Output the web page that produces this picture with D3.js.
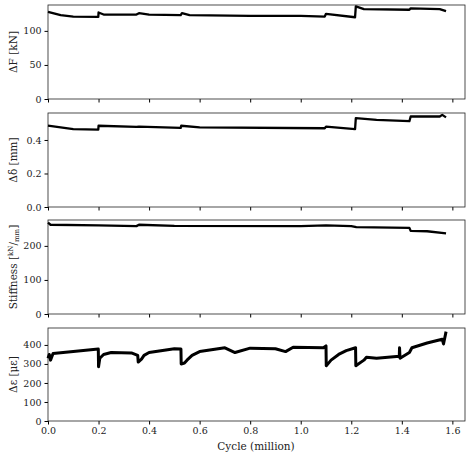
<!DOCTYPE html>
<html><head><meta charset="utf-8">
<script src="https://cdn.jsdelivr.net/npm/d3@7"></script>
<style>
body{margin:0;background:#fff}
.tick text{font-family:"DejaVu Serif";font-size:9.5px;fill:#222}
.lbl{font-family:"DejaVu Serif";font-size:10.5px;fill:#222}
</style></head><body>
<div id="chart"></div>
<script>
// Cycle (million) / value pairs
const forceX = [0,0.05,0.1,0.199,0.2,0.22,0.35,0.36,0.4,0.525,0.53,0.56,0.8,1.0,1.095,1.1,1.215,1.218,1.25,1.43,1.435,1.55,1.575]
const forceY = [128,123,121,120.5,127,124,124,126,124,123,126,123,122,122,121,125,120,136,132,131,133,132,129]
const deltaX = [0,0.1,0.199,0.2,0.35,0.36,0.525,0.527,0.6,1.095,1.1,1.215,1.218,1.3,1.43,1.435,1.55,1.56,1.575]
const deltaY = [0.485,0.465,0.462,0.485,0.478,0.48,0.472,0.485,0.475,0.47,0.48,0.465,0.53,0.52,0.512,0.54,0.54,0.55,0.535]
const stiffX = [0,0.01,0.2,0.35,0.36,0.5,1.0,1.1,1.2,1.22,1.43,1.435,1.5,1.575]
const stiffY = [268,262,260,258,262,259,258,260,258,255,253,244,243,237]
const strainX = [0,0.005,0.01,0.02,0.1,0.199,0.2,0.205,0.22,0.25,0.33,0.355,0.357,0.37,0.38,0.4,0.5,0.526,0.527,0.54,0.55,0.57,0.6,0.7,0.74,0.8,0.9,0.94,0.97,1.09,1.1,1.101,1.12,1.15,1.18,1.217,1.218,1.25,1.26,1.3,1.39,1.391,1.393,1.43,1.44,1.5,1.56,1.565,1.575]
const strainY = [330,350,320,355,365,378,285,330,350,360,358,345,310,325,345,360,380,378,300,305,320,345,365,385,360,383,380,365,388,385,395,290,320,350,370,385,290,320,335,330,340,385,330,360,385,410,430,405,470]

const panels = [
  {xs: forceX, ys: forceY, max: 138, ticks: [0,50,100], fmt: d3.format("d"), top: 5, bot: 99, label: "ΔF [kN]"},
  {xs: deltaX, ys: deltaY, max: 0.561, ticks: [0,0.2,0.4], fmt: d3.format(".1f"), top: 113, bot: 207, label: "Δδ [mm]"},
  {xs: stiffX, ys: stiffY, max: 276, ticks: [0,100,200], fmt: d3.format("d"), top: 220, bot: 314, label: null},
  {xs: strainX, ys: strainY, max: 489, ticks: [0,100,200,300,400], fmt: d3.format("d"), top: 328, bot: 421, label: "Δε [με]"}
]

const svg = d3.select("#chart").append("svg").attr("width", 474).attr("height", 457)
const x = d3.scaleLinear().domain([0, 1.65]).range([48, 465])

panels.forEach(function(p, i) {
    const y = d3.scaleLinear().domain([0, p.max]).range([p.bot, p.top])
    const g = svg.append("g")
    g.append("g").attr("transform", "translate(0," + p.bot + ")")
        .call(d3.axisBottom(x).tickValues(d3.range(0, 1.61, 0.2)).tickSize(3.5)
            .tickFormat(i === 3 ? d3.format(".1f") : ""))
        .call(a => a.select(".domain").remove())
    g.append("g").attr("transform", "translate(48,0)")
        .call(d3.axisLeft(y).tickValues(p.ticks).tickSize(3.5).tickFormat(p.fmt))
        .call(a => a.select(".domain").remove())
    g.append("rect").attr("x", 48).attr("y", p.top).attr("width", 417).attr("height", p.bot - p.top)
        .attr("fill", "none").attr("stroke", "#222").attr("stroke-width", 0.8)
    const line = d3.line().x(d => x(d[0])).y(d => y(d[1]))
    g.append("path").datum(d3.zip(p.xs, p.ys)).attr("d", line)
        .attr("fill", "none").attr("stroke", "#000").attr("stroke-width", i === 3 ? 3 : 2.3)
        .attr("stroke-linejoin", "round")
    const cy = (p.top + p.bot) / 2
    const t = g.append("text").attr("class", "lbl").attr("text-anchor", "middle")
        .attr("transform", "translate(17," + cy + ") rotate(-90)")
    if (p.label) {
        t.text(p.label)
    } else {
        t.append("tspan").text("Stiffness [")
        t.append("tspan").attr("font-size", "7px").attr("dy", -4).text("kN")
        t.append("tspan").attr("dy", 4).text("/")
        t.append("tspan").attr("font-size", "7px").attr("dy", 2).text("mm")
        t.append("tspan").attr("dy", -2).text("]")
    }
})

svg.append("text").attr("class", "lbl").attr("x", 256).attr("y", 450)
    .attr("text-anchor", "middle").text("Cycle (million)")
</script>
</body></html>
